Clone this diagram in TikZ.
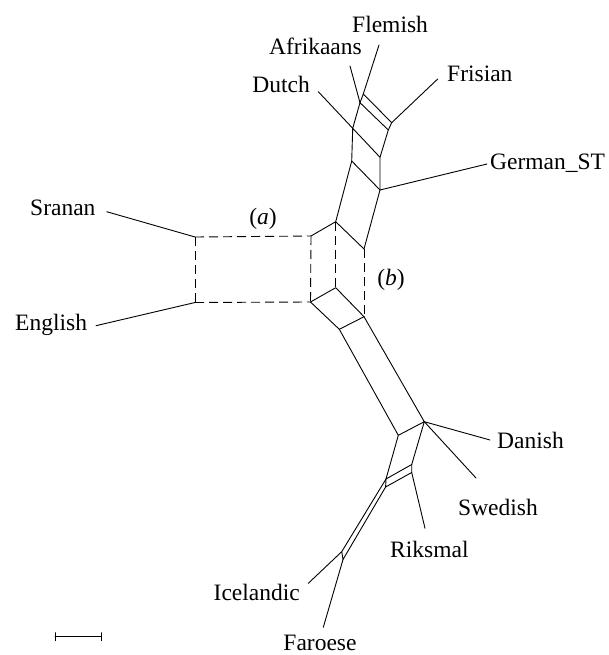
\documentclass[tikz,border=0pt]{standalone}
\usepackage{fontspec}
\setmainfont{Liberation Serif}
\begin{document}
\begin{tikzpicture}[x=1pt,y=-1pt,
  edge/.style={line width=0.9pt,line cap=round,line join=round},
  dashedge/.style={line width=0.9pt,dash pattern=on 9pt off 5pt},
  lab/.style={inner sep=0pt,font=\fontsize{23.5}{28}\selectfont}]
\useasboundingbox (0,0) rectangle (609,655);
% vertices
\coordinate (X1) at (195,237);
\coordinate (X2) at (195,302.5);
\coordinate (A) at (311,236);
\coordinate (D) at (310.5,302);
\coordinate (B) at (335.7,221.7);
\coordinate (E) at (335.7,287.7);
\coordinate (C) at (364,249);
\coordinate (F) at (364,316.7);
\coordinate (G) at (339.3,329.3);
\coordinate (I) at (351.7,161);
\coordinate (J) at (380,190);
\coordinate (K) at (352.7,128.3);
\coordinate (L) at (380,157.3);
\coordinate (P) at (360,102.7);
\coordinate (R2) at (388.3,130);
\coordinate (Q1) at (363.3,94);
\coordinate (R1) at (391.7,122.7);
\coordinate (S) at (424.3,421.7);
\coordinate (T) at (398.3,435.3);
\coordinate (U1) at (411.7,464.5);
\coordinate (U2) at (411.7,472.5);
\coordinate (V1) at (386,479);
\coordinate (V2) at (385.6,487);
\coordinate (W1) at (341.7,551.7);
\coordinate (W2) at (343,559.5);
% leaf ends
\coordinate (sranE) at (106.7,211.7);
\coordinate (engE) at (96,325.7);
\coordinate (dutE) at (318.3,91.7);
\coordinate (afrE) at (350,66);
\coordinate (flemE) at (379,45);
\coordinate (friE) at (437.7,79);
\coordinate (gerE) at (487,164);
\coordinate (danE) at (490,440);
\coordinate (sweE) at (476,478);
\coordinate (rikE) at (425,528.3);
\coordinate (iceE) at (308.3,583.3);
\coordinate (farE) at (323.3,627.3);
% dashed split (a),(b)
\draw[dashedge] (X1) -- (A);
\draw[dashedge] (X2) -- (D);
\draw[dashedge] (X1) -- (X2);
\draw[dashedge] (A) -- (D);
\draw[dashedge] (B) -- (E);
\draw[dashedge] (C) -- (F);
% solid edges
\draw[edge] (sranE) -- (X1);
\draw[edge] (engE) -- (X2);
\draw[edge] (A) -- (B) -- (C);
\draw[edge] (D) -- (E) -- (F);
\draw[edge] (D) -- (G) -- (F);
\draw[edge] (B) -- (I) -- (J) -- (C);
\draw[edge] (I) -- (K) -- (L) -- (J);
\draw[edge] (J) -- (gerE);
\draw[edge] (K) -- (dutE);
\draw[edge] (K) -- (P) -- (R2) -- (L);
\draw[edge] (P) -- (Q1) -- (R1) -- (R2);
\draw[edge] (R1) -- (friE);
\draw[edge] (Q1) -- (flemE);
\draw[edge] (P) -- (afrE);
\draw[edge] (G) -- (T) -- (S) -- (F);
\draw[edge] (S) -- (danE);
\draw[edge] (S) -- (sweE);
\draw[edge] (T) -- (V1) -- (U1) -- (S);
\draw[edge] (U1) -- (U2) -- (V2) -- (V1);
\draw[edge] (U2) -- (rikE);
\draw[edge] (V1) -- (W1) -- (W2) -- (V2);
\draw[edge] (W1) -- (iceE);
\draw[edge] (W2) -- (farE);
% labels
\node[lab,anchor=base west] (lflem) at (352,33) {Flemish};
\node[lab,anchor=base east] (lafr) at (362,55) {Afrikaans};
\node[lab,anchor=base east] (ldut) at (310,93) {Dutch};
\node[lab,anchor=base west] (lfri) at (447,82) {Frisian};
\node[lab,anchor=base west] (lger) at (490,170) {German\_ST};
\node[lab,anchor=base west] (lsra) at (30,215) {Sranan};
\node[lab,anchor=base west] (leng) at (15,330) {English};
\node[lab,anchor=base] (la) at (263,224) {(\textit{a})};
\node[lab,anchor=base] (lb) at (391,285) {(\textit{b})};
\node[lab,anchor=base west] (ldan) at (497,448) {Danish};
\node[lab,anchor=base west] (lswe) at (458,515) {Swedish};
\node[lab,anchor=base west] (lrik) at (390,557) {Riksmal};
\node[lab,anchor=base east] (lice) at (300,600) {Icelandic};
\node[lab,anchor=base] (lfar) at (320,650) {Faroese};
% scale bar
\coordinate (sb1) at (55,636.7);
\coordinate (sb2) at (101,636.7);
\draw[edge] (sb1) -- (sb2);
\draw[edge] ([yshift=-4pt]sb1) -- ([yshift=4pt]sb1);
\draw[edge] ([yshift=-4pt]sb2) -- ([yshift=4pt]sb2);
\end{tikzpicture}
\end{document}
